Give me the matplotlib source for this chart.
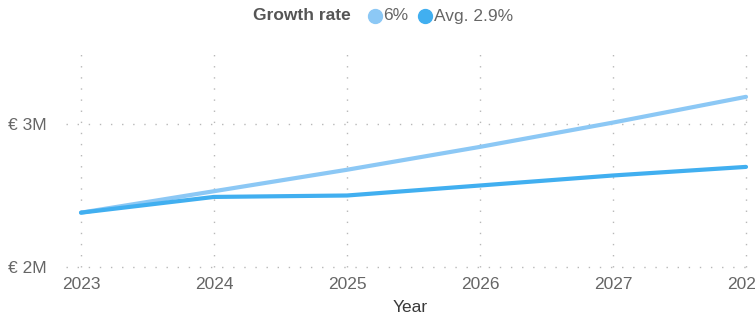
import matplotlib.pyplot as plt
from matplotlib.lines import Line2D

years = [2023, 2024, 2025, 2026, 2027, 2028]
growth_6 = [2.38, 2.53, 2.68, 2.84, 3.01, 3.19]      # € millions
growth_avg = [2.38, 2.49, 2.50, 2.57, 2.64, 2.70]   # € millions
y_ticks = [2, 3]
y_tick_labels = ["€ 2M", "€ 3M"]

light_blue = "#8cc8f5"
blue = "#41aff0"
grid_color = "#b8b8b8"
text_color = "#666666"

plt.rcParams['font.family'] = ['Liberation Sans', 'DejaVu Sans']

fig = plt.figure(figsize=(7.55, 3.2), dpi=100)
ax = fig.add_axes([66 / 755, 53 / 320, 1 - 66 / 755, (267 - 48) / 320])

ax.plot(years, growth_6, color=light_blue, lw=3, solid_capstyle='round', zorder=3)
ax.plot(years, growth_avg, color=blue, lw=3, solid_capstyle='round', zorder=4)

ax.set_xlim(2023 - 15 / 133, 2028 + 9 / 133)
ax.set_ylim(2, 2 + (267 - 48) / 143)

ax.set_xticks(years)
ax.set_xticklabels([str(y) for y in years])
ax.set_yticks(y_ticks)
ax.set_yticklabels(y_tick_labels)
ax.tick_params(length=0, labelsize=12.5, colors=text_color)
ax.tick_params(axis='y', pad=14)
ax.tick_params(axis='x', pad=7)

ax.grid(True, linestyle=(0, (1, 7)), color=grid_color, lw=1)
for gl in ax.get_xgridlines() + ax.get_ygridlines():
    gl.set_clip_on(False)
for s in ax.spines.values():
    s.set_visible(False)
ax.set_xlabel("Year", fontsize=12.5, color="#3a3a3a", labelpad=6)

# legend row at the top
ly = 1 - 16 / 320
fig.text(253 / 755, ly, "Growth rate", fontsize=12.5, fontweight='semibold',
         color="#555555", va='center', ha='left')
fig.add_artist(Line2D([375 / 755], [ly], marker='o', markersize=10,
                      color=light_blue, transform=fig.transFigure))
fig.text(383 / 755, ly, "6%", fontsize=12.5, color=text_color, va='center')
fig.add_artist(Line2D([425 / 755], [ly], marker='o', markersize=10,
                      color=blue, transform=fig.transFigure))
fig.text(434 / 755, ly, "Avg. 2.9%", fontsize=12.5, color=text_color, va='center')

fig.savefig("out.png", dpi=100)
